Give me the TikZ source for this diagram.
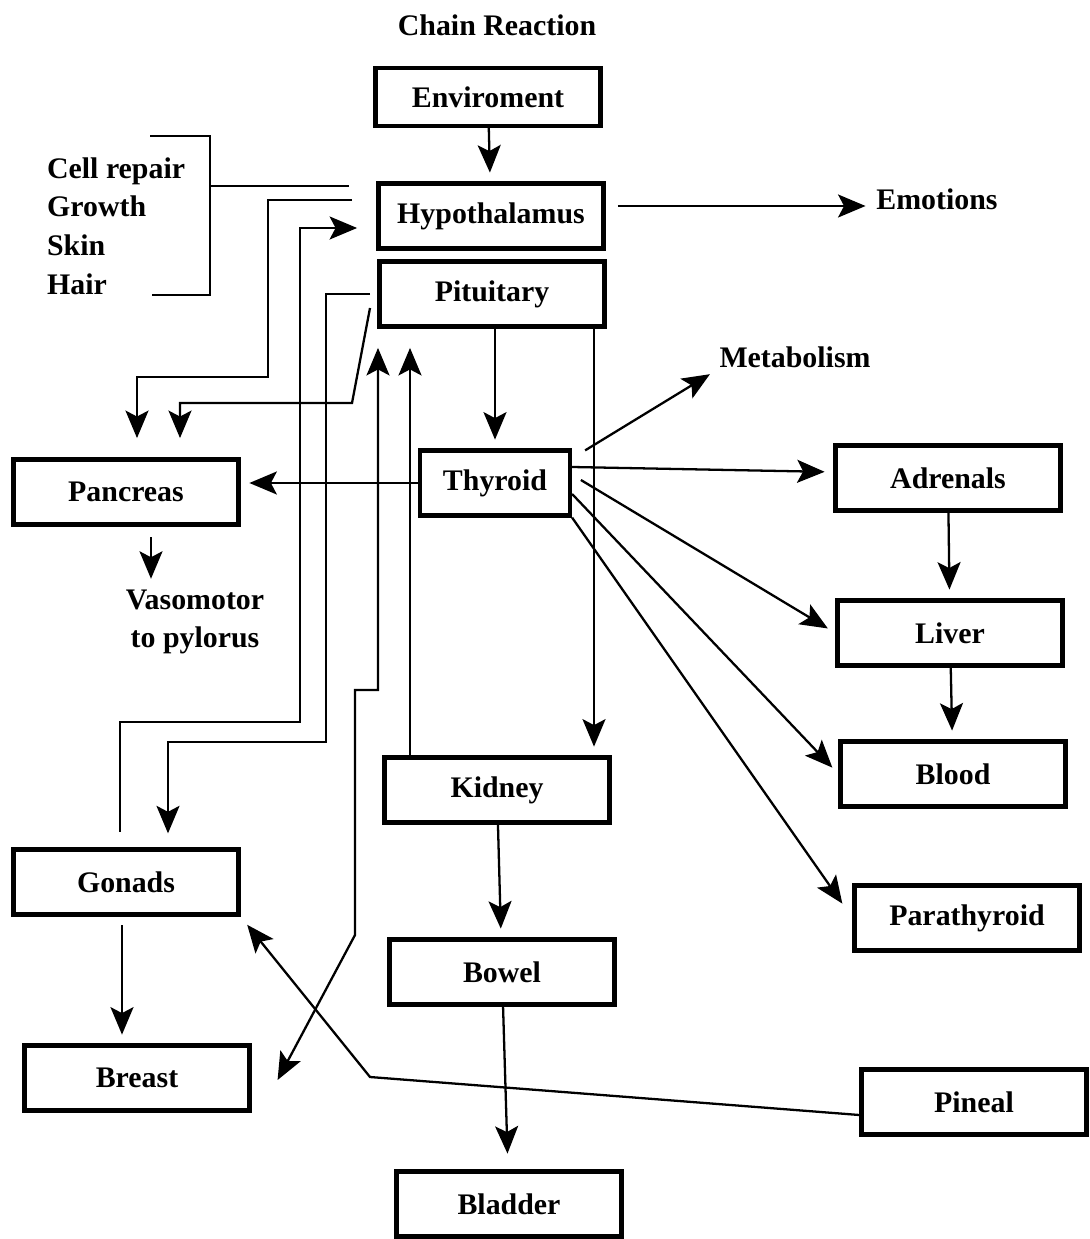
\documentclass[tikz,border=0pt]{standalone}
\usepackage{fontspec}
\setmainfont{Liberation Serif}
\usetikzlibrary{arrows.meta}
\newcommand{\organfont}{\fontsize{17}{22}\selectfont\bfseries}
\begin{document}
\begin{tikzpicture}[x=0.02cm, y=-0.02cm,
    organ/.style = {draw, line width=2.4pt, minimum width=4.5cm, minimum height=1.3cm, inner sep=0pt, font=\organfont},
    word/.style = {font=\organfont, inner sep=1pt},
    link/.style = {line width=1.3pt},
    tip/.style = {-{Stealth[length=5.5mm, width=4.6mm, inset=1.2mm]}},
    arr/.style = {link, tip, shorten >=5pt},
    twoway/.style = {link, {Stealth[length=5.5mm, width=4.6mm, inset=1.2mm]}-{Stealth[length=5.5mm, width=4.6mm, inset=1.2mm]}}]
\useasboundingbox (0,0) rectangle (1089,1239);
% title and boxes
\node[word] (title) at (497,25) {Chain Reaction};
\node[organ, minimum height=1.15cm] (env) at (488,97) {Enviroment};
\node[organ] (hypo) at (491,216) {Hypothalamus};
\node[organ] (pit) at (492,294) {Pituitary};
\node[organ, minimum width=3cm] (thyr) at (495,483) {Thyroid};
\node[organ] (panc) at (126,492) {Pancreas};
\node[organ] (adren) at (948,478) {Adrenals};
\node[organ] (liver) at (950,633) {Liver};
\node[organ] (blood) at (953,774) {Blood};
\node[organ] (parathy) at (967,918) {Parathyroid};
\node[organ] (kidney) at (497,790) {Kidney};
\node[organ] (bowel) at (502,972) {Bowel};
\node[organ] (bladder) at (509,1204) {Bladder};
\node[organ] (gonads) at (126,882) {Gonads};
\node[organ] (breast) at (137,1078) {Breast};
\node[organ] (pineal) at (974,1102) {Pineal};
% plain labels
\node[word] (emot) at (937,199) {Emotions};
\node[word] (metab) at (795,357) {Metabolism};
\node[word, align=center] (vaso) at (195,622) {Vasomotor\\to pylorus};
\node[word, align=left, anchor=west] (needs) at (45,226) {Cell repair\\Growth\\Skin\\Hair};
% bracket
\draw[link] (150,136) -| (210,295) -- (152,295);
\draw[link] (210,186) -- (349,186);
% free ends beside hypothalamus and pituitary
\coordinate (hA) at (352,200);
\coordinate (pC) at (370,294);
\coordinate (pD) at (370,308);
% main chain
\draw[arr] (env) -- (hypo);
\draw[arr] ([xshift=7]hypo.east |- 0,206) -- (emot.west |- 0,206);
\draw[arr] (pit.south -| thyr.north) -- (thyr.north);
\draw[arr] (thyr.west) -- (thyr.west -| panc.east);
\draw[arr] ([shift={(13,2)}]thyr.north east) -- (metab.south west);
\draw[arr] (thyr.east |- 0,467) -- (adren.west |- 0,472);
\draw[arr] ([xshift=5]thyr.east |- 0,480) -- (liver.west);
\draw[arr] (thyr.east |- 0,494) -- (blood.west);
\draw[arr, shorten >=10pt] (thyr.south east) -- (parathy.west);
\draw[arr] (adren) -- (liver);
\draw[arr] (liver) -- (blood);
\draw[arr, shorten <=6pt] (panc.south -| 151,0) -- (vaso.north -| 151,0);
\draw[arr, shorten <=5pt] (gonads.south -| 122,0) -- (breast.north -| 122,0);
\draw[arr] (kidney) -- (bowel);
\draw[arr, shorten >=9pt] (bowel) -- (bladder);
\draw[arr, shorten >=6pt] (pineal.west |- 0,1115) -- (370,1077) -- (gonads.south east);
% lines round the left side
\draw[arr, shorten >=11pt] (hA) -| (268,377) -| (panc.north -| 137,0);
\draw[arr, shorten >=11pt] (pD) -- (352,403) -| (panc.north -| 180,0);
\draw[arr, shorten <=9pt, shorten >=11pt] (gonads.north -| 120,0) |- (300,722) |- (hypo.west |- 0,228);
\draw[arr, shorten >=8pt] (pC) -| (326,742) -| (gonads.north -| 168,0);
\draw[twoway, shorten >=11pt] ([shift={(26,2)}]breast.east) -- (355,935) -- (355,690) -| (pit.south -| 378,0);
\draw[arr, shorten >=11pt] (kidney.north -| 410,0) -- (pit.south -| 410,0);
\draw[arr] (pit.south -| 594,0) -- (kidney.north -| 594,0);
\end{tikzpicture}
\end{document}
